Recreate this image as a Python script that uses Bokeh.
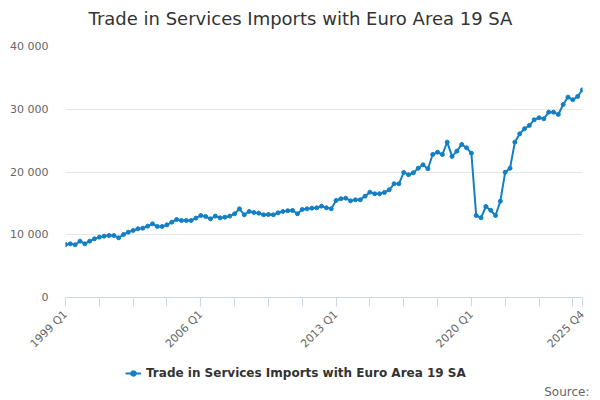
import math
from bokeh.plotting import figure
from bokeh.layouts import column
from bokeh.models import Range1d, FixedTicker, Legend, LegendItem, Label, Title
from bokeh.embed import file_html
from bokeh.resources import INLINE

title_text = "Trade in Services Imports with Euro Area 19 SA"
series_name = "Trade in Services Imports with Euro Area 19 SA"
source_text = "Source:"

years = list(range(1999, 2026))
quarters = [f"{y} Q{q}" for y in years for q in range(1, 5)]

values = [
    8450, 8555, 8400, 8980, 8555, 8980, 9350, 9620, 9780, 9880,
    9880, 9510, 10040, 10410, 10680, 10950, 11050, 11370, 11740, 11320,
    11320, 11580, 12010, 12430, 12270, 12270, 12270, 12650, 13070, 12910,
    12540, 12970, 12700, 12800, 12970, 13340, 14130, 13180, 13710, 13550,
    13440, 13180, 13230, 13180, 13500, 13710, 13820, 13870, 13340, 14030,
    14130, 14240, 14290, 14560, 14290, 14130, 15460, 15730, 15830, 15400,
    15570, 15570, 16150, 16790, 16530, 16530, 16740, 17170, 18120, 18120,
    19930, 19560, 19880, 20610, 21150, 20510, 22790, 23160, 22790, 24760,
    22480, 23320, 24390, 23860, 23000, 13070, 12700, 14500, 13900, 13070,
    15350, 19970, 20600, 24760, 26090, 26890, 27420, 28320, 28640, 28480,
    29540, 29540, 29170, 30760, 31930, 31510, 32040, 33100,
]

y_ticks = [0, 10000, 20000, 30000, 40000]
y_tick_labels = ["0", "10 000", "20 000", "30 000", "40 000"]
x_label_quarters = ["1999 Q1", "2006 Q1", "2013 Q1", "2020 Q1", "2025 Q4"]

xs = list(range(len(values)))
n = len(values)

FONT = "DejaVu Sans"
BLUE = "#137fc4"
W = 592
LEFT, RIGHT = 65, 10


def bare(height, bottom=0):
    f = figure(width=W, height=height, output_backend="svg", toolbar_location=None,
               x_range=Range1d(LEFT, W - RIGHT), y_range=Range1d(0, height - bottom),
               x_axis_type=None, y_axis_type=None,
               min_border_left=LEFT, min_border_right=RIGHT, min_border_top=0,
               min_border_bottom=bottom)
    f.outline_line_color = None
    f.grid.visible = False
    f.background_fill_color = "white"
    f.border_fill_color = "white"
    return f


# ---- header with the title
header = bare(30)
header.add_layout(Label(x=300, y=12, text=title_text, text_align="center",
                        text_baseline="middle", text_font=FONT,
                        text_font_size="18px", text_color="#333333"))

# ---- main chart
p = figure(width=W, height=330, output_backend="svg", toolbar_location=None,
           x_range=Range1d(0, n - 1), y_range=Range1d(0, 40000),
           min_border_left=LEFT, min_border_right=RIGHT, min_border_top=16,
           min_border_bottom=63)
p.outline_line_color = None
p.background_fill_color = "white"
p.border_fill_color = "white"

p.line(xs, values, line_color=BLUE, line_width=2)
p.scatter(xs, values, size=4, fill_color=BLUE, line_color=BLUE)

x_tick_pos = list(range(0, n, 7)) + [n - 1]
overrides = {}
for t in x_tick_pos:
    overrides[t] = quarters[t] if quarters[t] in x_label_quarters else ""
p.xaxis.ticker = FixedTicker(ticks=x_tick_pos)
p.xaxis.major_label_overrides = overrides
p.xaxis.major_label_orientation = math.pi / 4
p.xaxis.axis_line_color = "#ccd6eb"
p.xaxis.major_tick_line_color = "#ccd6eb"
p.xaxis.major_tick_out = 9
p.xaxis.major_tick_in = 0
p.xaxis.minor_tick_line_color = None
p.xaxis.major_label_text_font = FONT
p.xaxis.major_label_text_font_size = "11px"
p.xaxis.major_label_text_color = "#666666"
p.xaxis.major_label_standoff = 6
p.xgrid.grid_line_color = None

p.yaxis.ticker = FixedTicker(ticks=y_ticks)
p.yaxis.major_label_overrides = {t: l for t, l in zip(y_ticks, y_tick_labels)}
p.yaxis.axis_line_color = None
p.yaxis.major_tick_line_color = None
p.yaxis.minor_tick_line_color = None
p.yaxis.major_label_text_font = FONT
p.yaxis.major_label_text_font_size = "11px"
p.yaxis.major_label_text_color = "#666666"
p.yaxis.major_label_standoff = 11
p.ygrid.grid_line_color = "#e6e6e6"
p.ygrid.ticker = FixedTicker(ticks=y_ticks)

# ---- footer with legend and source
footer = bare(40, bottom=20)
# the series drawn here lies outside the footer's visible range; it only feeds the legend
f_line = footer.line(xs, values, line_color=BLUE, line_width=2)
f_pts = footer.scatter(xs, values, size=4, fill_color=BLUE, line_color=BLUE)
legend = Legend(items=[LegendItem(label=series_name, renderers=[f_line, f_pts])],
                location=(60, 0), orientation="horizontal",
                padding=0, margin=0, border_line_alpha=0, background_fill_alpha=0,
                glyph_width=16, glyph_height=14, label_height=14, label_standoff=5,
                label_text_font=FONT, label_text_font_size="12px",
                label_text_font_style="bold", label_text_color="#333333")
footer.add_layout(legend, "center")
footer.add_layout(Title(text=source_text, align="right", offset=-7, standoff=4,
                        vertical_align="bottom", text_font=FONT,
                        text_font_size="12px", text_font_style="normal",
                        text_color="#666666"), "below")

layout = column(header, p, footer, spacing=0)
open("out.html", "w").write(file_html(layout, INLINE))
